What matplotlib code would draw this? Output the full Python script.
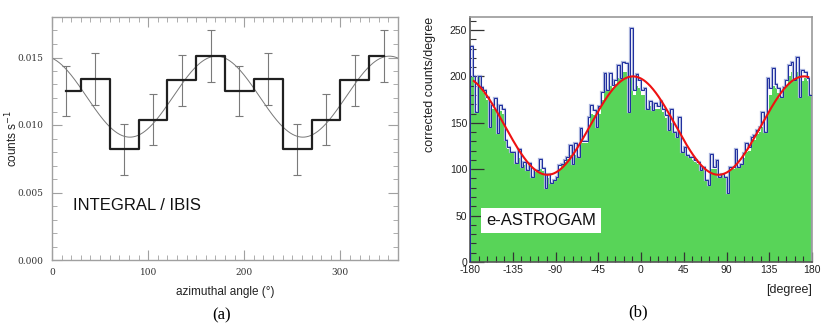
import numpy as np
import matplotlib
matplotlib.use("Agg")
import matplotlib.pyplot as plt
from matplotlib.ticker import MultipleLocator

# ---------------- Panel (a) data: INTEGRAL / IBIS ----------------
angles_a = [15, 45, 75, 105, 135, 165, 195, 225, 255, 285, 315, 345]
rates_a = [0.01255, 0.0134, 0.0082, 0.0104, 0.0133, 0.0151,
           0.01255, 0.0134, 0.0082, 0.0104, 0.0133, 0.0151]
errors_a = [0.00185, 0.0019, 0.0019, 0.0019, 0.0019, 0.00195,
            0.00185, 0.0019, 0.0019, 0.0019, 0.0019, 0.00195]
# modulation fit parameters (mean, amplitude, phase in degrees)
fit_a_mean = 0.0121
fit_a_amp = 0.0030
fit_a_phase = 171.0

# ---------------- Panel (b) data: e-ASTROGAM ----------------
blue_b = [233, 200, 162, 200, 189, 185, 178, 146, 169, 177,
          139, 169, 165, 131, 124, 119, 119, 107, 122, 102,
          108, 99, 107, 92, 99, 99, 111, 101, 80, 95,
          85, 88, 92, 104, 106, 110, 113, 126, 106, 128,
          113, 144, 130, 130, 156, 169, 164, 146, 168, 183,
          204, 185, 204, 191, 196, 212, 198, 216, 214, 162,
          252, 185, 203, 196, 185, 187, 165, 174, 164, 171,
          168, 174, 165, 158, 142, 165, 140, 135, 156, 119,
          124, 115, 113, 113, 110, 108, 99, 102, 88, 83,
          116, 102, 110, 92, 95, 92, 74, 102, 102, 122,
          102, 106, 117, 128, 124, 135, 137, 142, 146, 162,
          140, 198, 187, 209, 192, 187, 178, 189, 196, 212,
          216, 196, 221, 178, 207, 205, 198, 180]
green_b = [200, 200, 162, 200, 189, 182, 175, 146, 165, 165,
           139, 163, 160, 131, 122, 117, 117, 107, 112, 102,
           104, 99, 102, 92, 97, 97, 100, 98, 80, 90,
           85, 88, 92, 100, 104, 108, 111, 115, 106, 115,
           113, 132, 128, 128, 145, 160, 158, 146, 160, 175,
           185, 185, 190, 188, 192, 198, 198, 205, 205, 162,
           200, 180, 190, 188, 180, 180, 165, 168, 164, 165,
           165, 168, 162, 155, 142, 150, 140, 135, 138, 119,
           119, 115, 113, 110, 108, 106, 99, 100, 88, 83,
           100, 100, 100, 92, 94, 92, 74, 100, 100, 105,
           102, 104, 112, 118, 120, 128, 132, 138, 140, 145,
           140, 160, 180, 190, 188, 182, 178, 185, 190, 200,
           205, 196, 205, 178, 195, 198, 195, 180]
# modulation fit parameters (mean, amplitude, phase in degrees)
fit_b_mean = 147.0
fit_b_amp = 53.0
fit_b_phase = -8.5

x_ticks_b = [-180, -135, -90, -45, 0, 45, 90, 135, 180]

fig = plt.figure(figsize=(8.22, 3.27), dpi=100)

# ================= Panel (a) =================
W, H = 822.0, 327.0
axA = fig.add_axes([52 / W, 1 - 260 / H, 346 / W, 243 / H])
for s in axA.spines.values():
    s.set_color("#a0a0a0")
    s.set_linewidth(1.0)
axA.errorbar(angles_a, rates_a, yerr=errors_a, fmt="none", ecolor="#7a7a7a",
             elinewidth=0.8, capsize=3, capthick=0.8, zorder=2)
axA.step(angles_a, rates_a, where="mid", color="#202020", lw=1.6, zorder=3)
phi = np.linspace(0, 360, 721)
axA.plot(phi, fit_a_mean + fit_a_amp * np.cos(np.radians(2 * (phi - fit_a_phase))),
         color="#777777", lw=0.7, zorder=2)
axA.set_xlim(0, 360)
axA.set_ylim(0, 0.018)
axA.set_xticks([0, 100, 200, 300])
axA.set_yticks([0.0, 0.005, 0.010, 0.015])
axA.set_yticklabels(["0.000", "0.005", "0.010", "0.015"])
axA.xaxis.set_minor_locator(MultipleLocator(10))
axA.yaxis.set_minor_locator(MultipleLocator(0.001))
axA.tick_params(which="both", direction="in", top=True, right=True,
                color="#a0a0a0", labelcolor="#333333", labelsize=6.5,
                labelfontfamily="DejaVu Serif")
axA.tick_params(which="major", length=7, width=0.8, pad=6)
axA.tick_params(which="minor", length=3.5, width=0.6)
axA.set_xlabel("azimuthal angle (°)", fontsize=8.5, family="Liberation Sans",
               color="#222222")
axA.xaxis.set_label_coords(0.5, -(286 - 260) / 243)
axA.set_ylabel("counts s$^{-1}$", fontsize=8.5, family="Liberation Sans",
               color="#222222")
axA.yaxis.set_label_coords(-(52 - 20) / 346, 0.5)
axA.text(0.06, 0.225, "INTEGRAL / IBIS", transform=axA.transAxes,
         fontsize=12, family="Liberation Sans", color="#111111", va="center")

# ================= Panel (b) =================
axB = fig.add_axes([470 / W, 1 - 262 / H, 342 / W, 245 / H])
edges = np.linspace(-180, 180, len(blue_b) + 1)
axB.stairs(green_b, edges, fill=True, color="#58d458", lw=0, zorder=1)
axB.stairs(blue_b, edges, color="#aab4dc", lw=1.6, zorder=2)
axB.stairs(blue_b, edges, color="#1d2c9e", lw=0.7, zorder=3)
phib = np.linspace(-176, 176, 600)
axB.plot(phib, fit_b_mean + fit_b_amp * np.cos(np.radians(2 * (phib - fit_b_phase))),
         color="#ee1111", lw=1.5, zorder=4)
axB.set_xlim(-180, 180)
axB.set_ylim(0, 264)
axB.set_xticks(x_ticks_b)
axB.set_xticklabels([str(t) for t in x_ticks_b])
axB.set_yticks([0, 50, 100, 150, 200, 250])
axB.xaxis.set_minor_locator(MultipleLocator(9))
axB.yaxis.set_minor_locator(MultipleLocator(10))
for s in axB.spines.values():
    s.set_color("#999999")
    s.set_linewidth(1.2)
axB.spines["left"].set_color("#555555")
axB.spines["bottom"].set_color("#555555")
axB.tick_params(which="both", direction="in", color="#333333",
                labelcolor="#222222", labelsize=7.5, labelfontfamily="Liberation Sans")
axB.tick_params(axis="y", which="major", length=10, width=0.9, pad=2)
axB.tick_params(axis="x", which="major", length=7, width=0.9, pad=2)
axB.tick_params(which="minor", length=4, width=0.8)
fig.text(430 / W, 1 - 17 / H, "corrected counts/degree", rotation=90,
         ha="center", va="top", fontsize=9, family="Liberation Sans", color="#222222")
fig.text(812 / W, 1 - 290 / H, "[degree]", ha="right", va="center",
         fontsize=9, family="Liberation Sans", color="#222222")
axB.text(-163, 45, "e-ASTROGAM", fontsize=12, family="Liberation Sans",
         color="#111111", va="center", ha="left", zorder=6,
         bbox=dict(boxstyle="square,pad=0.3", fc="white", ec="none"))

# captions
fig.text(222 / W, 1 - 315 / H, "(a)", ha="center", va="center",
         fontsize=12, family="Liberation Serif")
fig.text(638 / W, 1 - 312 / H, "(b)", ha="center", va="center",
         fontsize=12, family="Liberation Serif")

fig.savefig("out.png", dpi=100)
